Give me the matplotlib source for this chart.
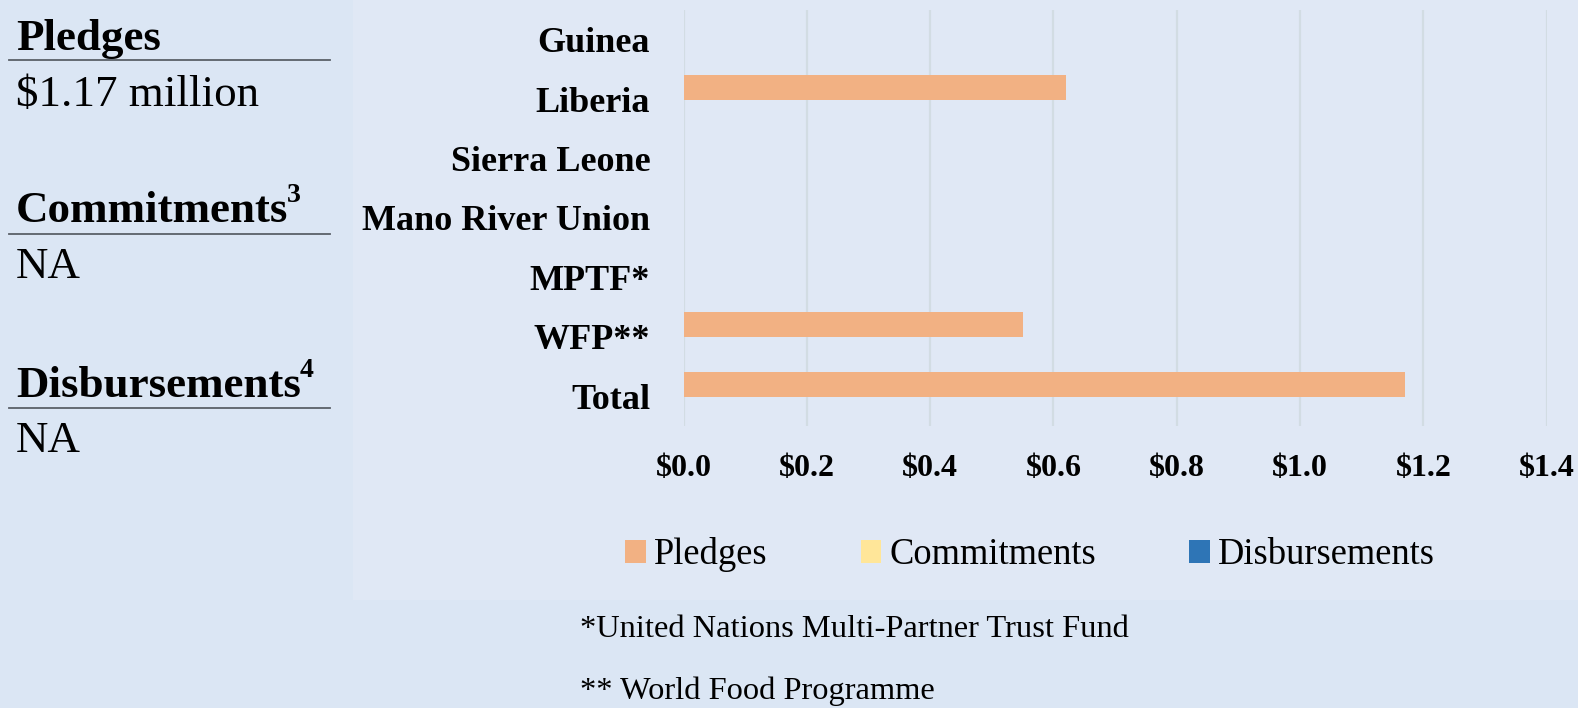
import matplotlib
matplotlib.use("Agg")
import matplotlib.pyplot as plt
import numpy as np
from matplotlib.patches import Rectangle
from matplotlib.lines import Line2D

# ---- data ----
categories = ["Guinea", "Liberia", "Sierra Leone", "Mano River Union", "MPTF*", "WFP**", "Total"]
pledges = [0.0, 0.62, 0.0, 0.0, 0.0, 0.55, 1.17]
commitments = [0.0, 0.0, 0.0, 0.0, 0.0, 0.0, 0.0]
disbursements = [0.0, 0.0, 0.0, 0.0, 0.0, 0.0, 0.0]
series_names = ["Pledges", "Commitments", "Disbursements"]
x_ticks = [0.0, 0.2, 0.4, 0.6, 0.8, 1.0, 1.2, 1.4]
x_ticklabels = ["$0.0", "$0.2", "$0.4", "$0.6", "$0.8", "$1.0", "$1.2", "$1.4"]
summary_heads = ["Pledges", "Commitments", "Disbursements"]
summary_sups = ["", "3", "4"]
summary_vals = ["$1.17 million", "NA", "NA"]
footnotes = ["*United Nations Multi-Partner Trust Fund", "** World Food Programme"]

colors = ["#F2B183", "#FFE699", "#2E75B6"]
OUTER = "#dbe6f4"
INNER = "#e0e8f5"
SERIF = "Liberation Serif"

W, H = 1578, 708
fig = plt.figure(figsize=(W / 100, H / 100), dpi=100, facecolor=OUTER)

def fx(px):
    return px / W

def fy(py):
    return 1 - py / H

# lighter chart area
fig.patches.append(Rectangle((fx(353), fy(600)), fx(W) - fx(353), fy(0) - fy(600),
                             transform=fig.transFigure, facecolor=INNER, edgecolor="none", zorder=-5))

ax = fig.add_axes([fx(683.5), fy(426), fx(1546.7) - fx(683.5), fy(10) - fy(426)])
ax.set_facecolor("none")

y = np.arange(len(categories))
bh = 0.42
offsets = [-0.2, 0.0, 0.2]
handles = []
for vals, off, col, name in zip([pledges, commitments, disbursements], offsets, colors, series_names):
    b = ax.barh(y + off, vals, height=bh, color=col, label=name, zorder=3, linewidth=0)
    handles.append(b)

ax.set_ylim(len(categories) - 0.5, -0.5)
ax.set_xlim(0, 1.4)
ax.set_xticks(x_ticks)
ax.set_xticklabels(x_ticklabels, fontfamily=SERIF, fontweight="bold", fontsize=23)
ax.set_yticks(y)
ax.set_yticklabels(categories, fontfamily=SERIF, fontweight="bold", fontsize=26)
ax.tick_params(axis="x", length=0, pad=20)
ax.tick_params(axis="y", length=0, pad=24)
ax.grid(axis="x", color="#d2dce3", linewidth=1.6, zorder=0)
for s in ax.spines.values():
    s.set_visible(False)

# legend
leg = fig.legend(handles=handles, labels=series_names, loc="center",
                 bbox_to_anchor=(fx(1030), fy(555)), ncol=3, frameon=False,
                 prop={"family": SERIF, "size": 26.3}, handlelength=0.56, handleheight=0.56,
                 handletextpad=0.22, columnspacing=2.55)

# left summary panel
head_base = [50, 222, 397]
val_base = [106, 278, 452]
line_y = [60, 234, 408]
head_texts = []
for hd, hb, vl, vb, ly in zip(summary_heads, head_base, summary_vals, val_base, line_y):
    t = fig.text(fx(16), fy(hb), hd, fontfamily=SERIF, fontweight="bold", fontsize=32.4,
                 va="baseline", ha="left")
    head_texts.append(t)
    fig.text(fx(16), fy(vb), vl, fontfamily=SERIF, fontsize=32.4, va="baseline", ha="left")
    fig.lines.append(Line2D([fx(9), fx(330)], [fy(ly), fy(ly)], transform=fig.transFigure,
                            color="#5a6068", linewidth=1.3))

fig.canvas.draw()
r = fig.canvas.get_renderer()
for t, sup, hb in zip(head_texts, summary_sups, head_base):
    if sup:
        bb = t.get_window_extent(r)
        fig.text(bb.x1 / W - fx(1), fy(hb - 20), sup, fontfamily=SERIF, fontweight="bold",
                 fontsize=20, va="baseline", ha="left")

# footnotes
fig.text(fx(580), fy(637), footnotes[0], fontfamily=SERIF, fontsize=23.4, va="baseline", ha="left")
fig.text(fx(580), fy(699), footnotes[1], fontfamily=SERIF, fontsize=23.4, va="baseline", ha="left")

fig.savefig("out.png", dpi=100, facecolor=OUTER)
